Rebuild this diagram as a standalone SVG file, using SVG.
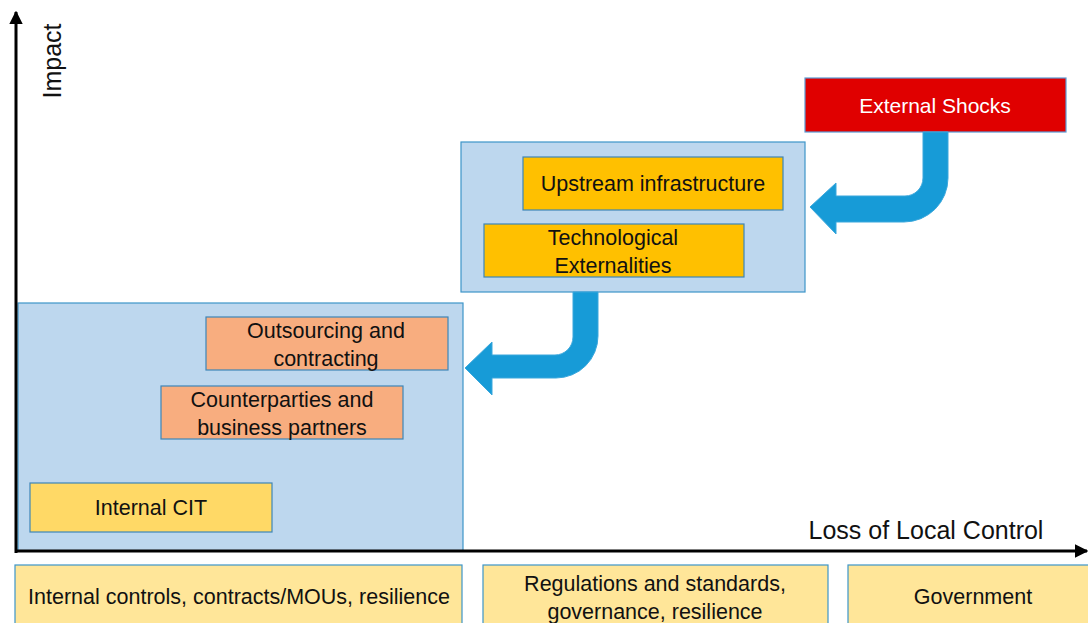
<svg xmlns="http://www.w3.org/2000/svg" width="1088" height="623" viewBox="0 0 1088 623">
<style>
text{font-family:"Liberation Sans",Arial,sans-serif;font-size:21.5px;fill:#111;text-anchor:middle;dominant-baseline:central}
.panel{fill:#bdd7ee;stroke:#3d95c9;stroke-width:1.2}
.yel{fill:#ffc000;stroke:#3d85b8;stroke-width:1.2}
.sal{fill:#f8ad7f;stroke:#3d85b8;stroke-width:1.2}
.lyel{fill:#ffd966;stroke:#3d85b8;stroke-width:1.2}
.pale{fill:#ffe699;stroke:#3d95c9;stroke-width:1.2}
.red{fill:#e00000;stroke:#5b9bd5;stroke-width:1.2}
.arr{fill:#179bd7;stroke:#3aa7dc;stroke-width:1}
.axis{stroke:#000;stroke-width:3;fill:none}
</style>
<defs>
<marker id="ah" viewBox="0 0 10 10" refX="9" refY="5" markerWidth="4.5" markerHeight="4.5" orient="auto"><path d="M0,0 L10,5 L0,10 z" fill="#000"/></marker>
</defs>
<rect width="1088" height="623" fill="#fff"/>
<g id="panel-top"><rect class="panel" x="461" y="142" width="344" height="150"/></g>
<g id="panel-bottom"><rect class="panel" x="18" y="303" width="445" height="248"/></g>
<g id="external-shocks"><rect class="red" x="805" y="78" width="261" height="54"/><text x="935" y="105" style="fill:#fff;font-size:21px">External Shocks</text></g>
<g id="upstream"><rect class="yel" x="523" y="157" width="260" height="53"/><text x="653" y="184">Upstream infrastructure</text></g>
<g id="techext"><rect class="yel" x="484" y="224" width="260" height="53"/><text x="613" y="238">Technological</text><text x="613" y="266">Externalities</text></g>
<g id="outsourcing"><rect class="sal" x="206" y="317" width="242" height="53"/><text x="326" y="331">Outsourcing and</text><text x="326" y="359">contracting</text></g>
<g id="counterparties"><rect class="sal" x="161" y="386" width="242" height="53"/><text x="282" y="400">Counterparties and</text><text x="282" y="428">business partners</text></g>
<g id="internal-cit"><rect class="lyel" x="30" y="483" width="242" height="49"/><text x="151" y="508">Internal CIT</text></g>
<g id="connectors">
<path class="arr" d="M810,207 L836,183 L836,196 L905,196 A18,18 0 0 0 923,178 L923,132 L948,132 L948,178 A44,44 0 0 1 904,222 L836,222 L836,234 Z"/>
<path class="arr" d="M465,368 L492,342 L492,355 L555,355 A18,18 0 0 0 573,337 L573,292 L598,292 L598,336 A42,42 0 0 1 556,378 L492,378 L492,395 Z"/>
</g>
<g id="axes">
<line class="axis" x1="16" y1="553" x2="16" y2="12" marker-end="url(#ah)"/>
<line class="axis" x1="15" y1="551" x2="1087" y2="551" marker-end="url(#ah)"/>
<text x="52" y="61" transform="rotate(-90 52 61)" style="font-size:25px">Impact</text>
<text x="926" y="530" style="font-size:25px">Loss of Local Control</text>
</g>
<g id="band-1"><rect class="pale" x="15" y="565" width="447" height="70"/><text x="239" y="597">Internal controls, contracts/MOUs, resilience</text></g>
<g id="band-2"><rect class="pale" x="483" y="565" width="345" height="70"/><text x="655" y="584">Regulations and standards,</text><text x="655" y="612">governance, resilience</text></g>
<g id="band-3"><rect class="pale" x="848" y="565" width="250" height="70"/><text x="973" y="597">Government</text></g>
</svg>
